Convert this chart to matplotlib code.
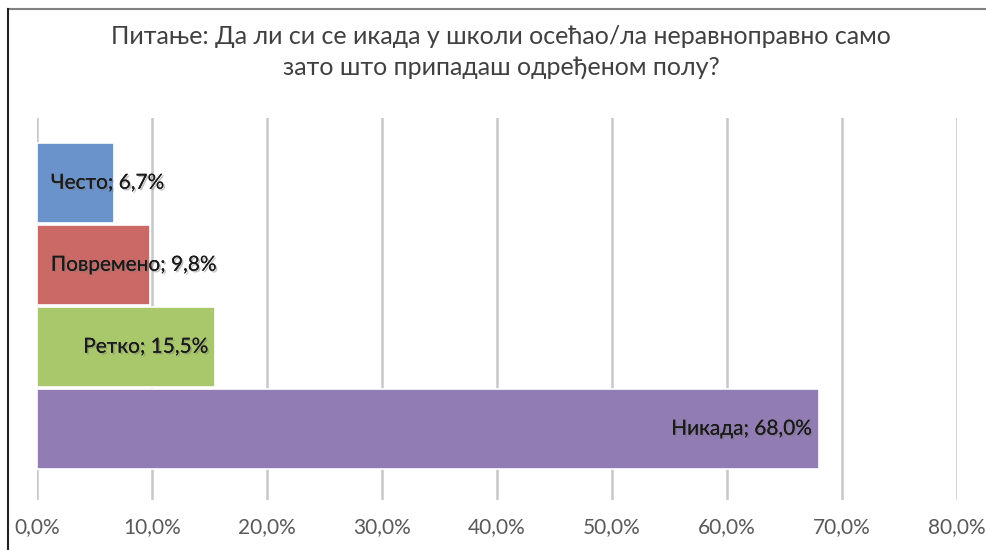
import matplotlib.pyplot as plt
import matplotlib.patheffects as pe
from matplotlib.lines import Line2D
from matplotlib.ticker import FuncFormatter

plt.rcParams['font.family'] = ['Lato', 'DejaVu Sans']

# data
categories = ["Често", "Повремено", "Ретко", "Никада"]
values = [6.7, 9.8, 15.5, 68.0]
colors = ["#6B93CB", "#CB6966", "#A9C86B", "#917CB3"]
title = "Питање: Да ли си се икада у школи осећао/ла неравноправно само\nзато што припадаш одређеном полу?"

fig = plt.figure(figsize=(9.87, 5.5), dpi=100)
ax = fig.add_axes([0.0375, 0.0909, 0.9321, 0.6946])

ypos = list(range(len(categories)))
ax.barh(ypos, values, height=0.975, color=colors, edgecolor="white", linewidth=1.2, zorder=3)

ax.set_xlim(0, 80)
ax.set_ylim(3.5 + 0.37, -0.5 - 0.29)
ax.set_xticks(range(0, 81, 10))
ax.xaxis.set_major_formatter(FuncFormatter(lambda v, p: f"{v:.1f}".replace(".", ",") + "%"))
ax.tick_params(axis="x", length=0, pad=12, labelsize=15, labelcolor="#595959")
ax.set_yticks([])
ax.grid(axis="x", color="#C8C8C8", linewidth=1.8, zorder=0)
for s in ax.spines.values():
    s.set_visible(False)

shadow = [pe.withSimplePatchShadow(offset=(1.2, -1.2), shadow_rgbFace="#777777", alpha=0.45), pe.Normal()]
for y, cat, v in zip(ypos, categories, values):
    txt = f"{cat}; {v:.1f}".replace(".", ",") + "%"
    if v > 12:
        ax.text(v - 0.6, y, txt, ha="right", va="center", fontsize=15, color="#1a1a1a",
                path_effects=shadow, zorder=5)
    else:
        ax.text(1.2, y, txt, ha="left", va="center", fontsize=15, color="#1a1a1a",
                path_effects=shadow, zorder=5)

fig.text(0.508, 0.905, title, ha="center", va="center", fontsize=18,
         color="#404040", linespacing=1.4)

# frame lines
fig.add_artist(Line2D([0.008, 1.0], [0.984, 0.984], color="#808080", linewidth=1.5))
fig.add_artist(Line2D([0.008, 0.008], [0.0, 0.984], color="#222222", linewidth=1.5))

fig.savefig("out.png", dpi=100)
